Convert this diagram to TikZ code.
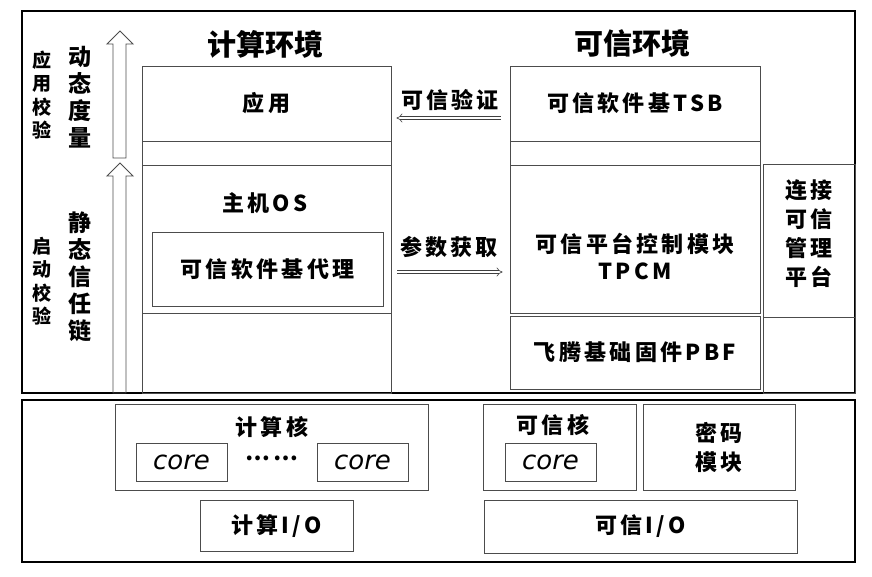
\documentclass[tikz,border=0pt]{standalone}
\usepackage{fontspec}
\usetikzlibrary{arrows.meta}
\newfontfamily\cjk[LetterSpace=15]{Noto Sans CJK SC}
\newfontfamily\cjkhead{Noto Sans CJK SC}
\newfontfamily\corefont{DejaVu Sans}

\begin{document}
\begin{tikzpicture}[x=1pt,y=-1pt,
  cell/.style={draw=black!70,line width=0.9pt,inner sep=0pt},
  frame/.style={draw=black,line width=2.4pt},
  lbl/.style={font=\cjk\bfseries\fontsize{22}{29}\selectfont,align=center},
  side/.style={font=\cjk\bfseries\fontsize{19}{23.5}\selectfont,align=center},
  sidebig/.style={font=\cjk\bfseries\fontsize{23}{27}\selectfont,align=center},
  head/.style={font=\cjkhead\bfseries\fontsize{29}{30}\selectfont},
  corelbl/.style={font=\corefont\itshape\fontsize{26}{28}\selectfont},
  flow/.style={draw=black!75,line width=0.6pt,double,double distance=2.6pt,-{Implies}}]
\tikzstyle{every node}+=[inner sep=0pt]
\useasboundingbox (0,0) rectangle (872,576);
\draw [frame] (22,11) rectangle (855,393);
\draw [frame] (22,400) rectangle (855,562);
\node [head] (hcomp) at (265,44) {计算环境};
\node [head] (htrust) at (632,43) {可信环境};
\node [side] (appchk) at (42,95) {应\\用\\校\\验};
\node [sidebig] (dynm) at (80,97) {动\\态\\度\\量};
\node [side] (bootchk) at (42,281) {启\\动\\校\\验};
\node [sidebig] (statc) at (80,277) {静\\态\\信\\任\\链};
\foreach \t/\b in {31/158,163/393}
  \draw [cell] (113,\b) -- (113,\t+13) -- (107,\t+13) -- (120,\t) -- (133,\t+13) -- (126,\t+13) -- (126,\b) -- cycle;
\node [cell,lbl,minimum width=249pt,minimum height=75pt] (app) at (266.5,103.5) {应用};
\node [cell,minimum width=249pt,minimum height=24pt] (appgap) at (266.5,153) {};
\node [cell,minimum width=249pt,minimum height=148pt] (os) at (266.5,239) {};
\node [lbl] (ostext) at (265,203) {主机OS};
\node [cell,lbl,minimum width=231pt,minimum height=74pt] (agent) at (267.5,269) {可信软件基代理};
\node [cell,minimum width=249pt,minimum height=80pt] (oslow) at (266.5,353) {};
\node [cell,lbl,minimum width=250pt,minimum height=75pt] (tsb) at (635,103.5) {可信软件基TSB};
\node [cell,minimum width=250pt,minimum height=24pt] (tsbgap) at (635,153) {};
\node [cell,minimum width=250pt,minimum height=148pt] (tpcm) at (635,239) {};
\node [lbl,font=\cjk\bfseries\fontsize{22}{27}\selectfont] (tpcmtext) at (635,256) {可信平台控制模块\\TPCM};
\node [cell,lbl,minimum width=250pt,minimum height=73pt] (pbf) at (635,352.5) {飞腾基础固件PBF};
\node [cell,minimum width=92pt,minimum height=153pt] (mgmt) at (809,240.5) {};
\node [lbl] (mgmttext) at (809,234) {连接\\可信\\管理\\平台};
\node [cell,minimum width=92pt,minimum height=76pt] (mgmtlow) at (809,355) {};
\node [lbl] (verify) at (450,100) {可信验证};
\node [lbl] (fetch) at (449,247) {参数获取};
\draw [flow,shorten <=9pt,shorten >=5pt] ([yshift=-14.5pt]tsb.west) -- ([yshift=-14.5pt]app.east);
\draw [flow,shorten <=6pt,shorten >=7pt] ([yshift=-33pt]os.east) -- ([yshift=-33pt]tpcm.west);
\node [cell,minimum width=313pt,minimum height=86pt] (ccore) at (271.5,447) {};
\node [lbl] (ccoretext) at (272,427) {计算核};
\node [cell,corelbl,minimum width=91pt,minimum height=38pt] (corea) at (181.5,462) {core};
\node [cell,corelbl,minimum width=91pt,minimum height=38pt] (coreb) at (362.5,462) {core};
\node [lbl] (dots) at (272,458) {……};
\node [cell,lbl,minimum width=153pt,minimum height=51pt] (cio) at (276.5,525.5) {计算I/O};
\node [cell,minimum width=153pt,minimum height=86pt] (tcore) at (559.5,447) {};
\node [lbl] (tcoretext) at (553,425) {可信核};
\node [cell,corelbl,minimum width=91pt,minimum height=38pt] (corec) at (550.5,462) {core};
\node [cell,lbl,minimum width=152pt,minimum height=86pt] (crypto) at (719,447) {密码\\模块};
\node [cell,lbl,minimum width=313pt,minimum height=53pt] (tio) at (640.5,526.5) {可信I/O};
\end{tikzpicture}
\end{document}
